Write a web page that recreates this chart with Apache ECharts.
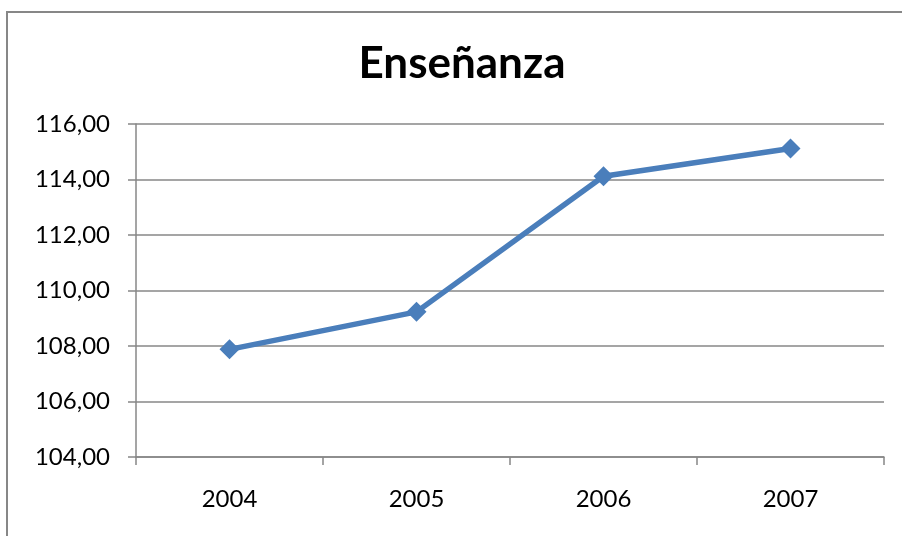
<!DOCTYPE html>
<html>
<head>
<meta charset="utf-8">
<script src="https://cdn.jsdelivr.net/npm/echarts@6/dist/echarts.min.js"></script>
<style>
  html, body { margin: 0; padding: 0; background: #fff; overflow: hidden; }
  .frame {
    position: absolute; left: 6px; top: 11px; width: 1000px; height: 1000px;
    border-left: 2px solid #878787; border-top: 2px solid #878787;
  }
  #chart { position: absolute; left: 0; top: 0; width: 902px; height: 536px; }
</style>
</head>
<body>
<div class="frame"></div>
<div id="chart"></div>
<script>
const years = ['2004', '2005', '2006', '2007']
const values = [107.88, 109.23, 114.12, 115.12]

const gray = '#878787'
const chart = echarts.init(document.getElementById('chart'))

chart.setOption({
  animation: false,
  title: {
    text: 'Enseñanza',
    left: 457,
    textAlign: 'center',
    top: 37,
    textStyle: { fontFamily: 'Lato', fontWeight: 'bold', fontSize: 44, color: '#000' }
  },
  grid: { left: 136, right: 18, top: 124, bottom: 79, containLabel: false },
  xAxis: {
    type: 'category',
    data: years,
    boundaryGap: true,
    axisLine: { lineStyle: { color: gray, width: 1.5 } },
    axisTick: { show: true, length: 8, lineStyle: { color: gray, width: 1.5 } },
    axisLabel: { color: '#000', fontFamily: 'Lato', fontSize: 24, margin: 30 }
  },
  yAxis: {
    type: 'value',
    min: 104,
    max: 116,
    interval: 2,
    axisLine: { show: true, lineStyle: { color: gray, width: 1.5 } },
    axisTick: { show: true, length: 8, lineStyle: { color: gray, width: 1.5 } },
    axisLabel: {
      color: '#000', fontFamily: 'Lato', fontSize: 24, margin: 26,
      formatter: v => v.toFixed(2).replace('.', ',')
    },
    splitLine: { lineStyle: { color: gray, width: 1.5 } }
  },
  series: [{
    type: 'line',
    data: values,
    symbol: 'diamond',
    symbolSize: 20,
    lineStyle: { color: '#4a7ebb', width: 5.5 },
    itemStyle: { color: '#4a7ebb' }
  }]
})
</script>
</body>
</html>
